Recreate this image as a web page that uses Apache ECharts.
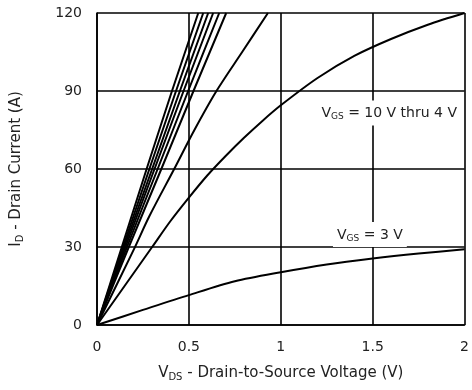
<!DOCTYPE html>
<html>
<head>
<meta charset="utf-8">
<title>Output Characteristics</title>
<script src="https://cdn.jsdelivr.net/npm/echarts@6/dist/echarts.min.js"></script>
<style>
  html, body { margin: 0; padding: 0; background: #fff; }
  #chart { width: 472px; height: 390px; }
</style>
</head>
<body>
<div id="chart"></div>
<script>
// Axis ticks
const xTicks = [0, 0.5, 1, 1.5, 2];
const yTicks = [0, 30, 60, 90, 120];

// Output characteristic curves, [VDS (V), ID (A)]
const curveA = [[0, 0], [0.135, 30], [0.27, 60], [0.408, 90], [0.551, 120]];
const curveB = [[0, 0], [0.142, 30], [0.285, 60], [0.43, 90], [0.578, 120]];
const curveC = [[0, 0], [0.148, 30], [0.3, 60], [0.451, 90], [0.605, 120]];
const curveD = [[0, 0], [0.155, 30], [0.313, 60], [0.471, 90], [0.632, 120]];
const curveE = [[0, 0], [0.163, 30], [0.33, 60], [0.496, 90], [0.665, 120]];
const curveF = [[0, 0], [0.173, 30], [0.35, 60], [0.525, 90], [0.703, 120]];
const curve5V = [[0, 0], [0.2, 29], [0.286, 42], [0.42, 60], [0.53, 75], [0.65, 90], [0.79, 105], [0.93, 120]];
const curve4V = [[0, 0], [0.1, 10], [0.2, 20], [0.3, 30], [0.4, 40], [0.5, 49], [0.6, 57.5], [0.7, 65],
                 [0.8, 72], [0.9, 78.5], [1.0, 84.5], [1.2, 95], [1.4, 103.5], [1.6, 110], [1.8, 115.5], [2.0, 120]];
const curve3V = [[0, 0], [0.25, 5.8], [0.5, 11.5], [0.75, 16.8], [1.0, 20.3], [1.25, 23.3], [1.5, 25.6], [1.75, 27.5], [2.0, 29.1]];

// Annotation anchors in data space
const labelUpper = { coord: [1.59, 81.5], text: '{v|V}{s|GS}{v| = 10 V thru 4 V}' };
const labelLower = { coord: [1.485, 34.8], text: '{v|V}{s|GS}{v| = 3 V}' };

const FONT = '"DejaVu Sans", Verdana, sans-serif';
const TEXT = '#222';

const richText = {
  v: { fontFamily: FONT, fontSize: 14, color: TEXT },
  s: { fontFamily: FONT, fontSize: 9, color: TEXT, verticalAlign: 'bottom', padding: [7, 0, 0, 0] }
};

const titleRich = {
  v: { fontFamily: FONT, fontSize: 15, color: TEXT },
  s: { fontFamily: FONT, fontSize: 10, color: TEXT, verticalAlign: 'bottom', padding: [8, 0, 0, 0] }
};

function curveSeries(data, smooth) {
  return {
    type: 'line',
    data: data,
    showSymbol: false,
    smooth: smooth,
    color: '#000',
    lineStyle: { color: '#000', width: 2 },
    silent: true,
    animation: false
  };
}

function annotation(item) {
  return {
    coord: item.coord,
    symbol: 'rect',
    symbolSize: 0,
    label: {
      show: true,
      position: 'inside',
      formatter: item.text,
      backgroundColor: '#fff',
      padding: [5, 4, 4, 4],
      rich: richText
    }
  };
}

const chart = echarts.init(document.getElementById('chart'));

const series = [
  curveSeries(curve3V, 0.3),
  curveSeries(curve4V, 0.3),
  curveSeries(curve5V, 0.3),
  curveSeries(curveF, 0.2),
  curveSeries(curveE, 0.2),
  curveSeries(curveD, 0.2),
  curveSeries(curveC, 0.2),
  curveSeries(curveB, 0.2),
  curveSeries(curveA, 0.2)
];
series.push({
  type: 'line',
  data: [],
  z: 10,
  markPoint: {
    silent: true,
    animation: false,
    data: [annotation(labelUpper), annotation(labelLower)]
  }
});

chart.setOption({
  animation: false,
  grid: { left: 97, right: 5, top: 13, bottom: 65, containLabel: false },
  xAxis: {
    type: 'value',
    min: xTicks[0],
    max: xTicks[xTicks.length - 1],
    interval: 0.5,
    name: '{v|V}{s|DS}{v| - Drain-to-Source Voltage (V)}',
    nameLocation: 'middle',
    nameGap: 39,
    nameTextStyle: { rich: titleRich },
    axisLine: { show: true, lineStyle: { color: '#000', width: 1.6 } },
    axisTick: { show: false },
    axisLabel: {
      margin: 15,
      fontFamily: FONT,
      fontSize: 14,
      color: TEXT,
      formatter: v => String(v)
    },
    splitLine: { show: true, lineStyle: { color: '#000', width: 1.6 } }
  },
  yAxis: {
    type: 'value',
    min: yTicks[0],
    max: yTicks[yTicks.length - 1],
    interval: 30,
    name: '{v|I}{s|D}{v| - Drain Current (A)}',
    nameLocation: 'middle',
    nameGap: 72,
    nameTextStyle: { rich: titleRich },
    axisLine: { show: true, lineStyle: { color: '#000', width: 1.6 } },
    axisTick: { show: false },
    axisLabel: {
      margin: 15,
      fontFamily: FONT,
      fontSize: 14,
      color: TEXT
    },
    splitLine: { show: true, lineStyle: { color: '#000', width: 1.6 } }
  },
  series: series
});
</script>
</body>
</html>
